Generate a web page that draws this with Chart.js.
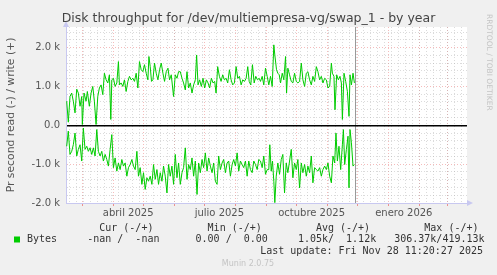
<!DOCTYPE html>
<html>
<head>
<meta charset="utf-8">
<script src="https://cdn.jsdelivr.net/npm/chart.js@4.4.1/dist/chart.umd.min.js"></script>
<style>
  html, body { margin: 0; padding: 0; background: #f0f0f0; }
</style>
</head>
<body>
<canvas id="chart" width="497" height="275"></canvas>
<script>
// Munin disk throughput graph (by year), redrawn with Chart.js
// x = days since 13 Feb 2025 (left edge of the graph)

const writeDays = [0.7,2.3,4,5.7,7.3,9,10.7,12.3,14,15.7,
  16.3,18,20,21.3,23.3,25,26.7,28.3,30,31.7,
  33.3,35,36.7,38.3,40,41.7,43.3,44.7,45.7,47.3,
  49,50.7,52.3,53.3,55,56.7,58.3,60,61.7,63.3,
  65,66.7,68.3,70,71.7,73.3,75,76.7,78.3,80,
  81.7,82.7,84,85.3,86.7,88.3,90,91.7,93.3,95,
  96.7,98.3,100,101.7,103.3,105,107.3,109,110.7,112.3,
  114,115.7,117.3,119,120.7,122.3,124,125.7,127.3,129,
  130.3,131.7,133.3,135,136.7,138.3,140,141.7,143.3,145,
  146.7,148.3,149.7,151.3,153,154.7,156.3,158,159.7,161.3,
  163,164.7,166.3,168,169.7,171.3,173,174.7,176.3,178,
  179.7,181.3,182.7,184.3,186,187.7,189.3,191,192.7,194,
  195.7,197.3,199,200.7,202.3,204,205.7,207.3,208.3,210,
  211.3,212.7,214,215.7,217.3,219,220,221.3,223,224.7,
  226.3,228,229.7,231.3,233,234.7,236.3,238,239.7,241.3,
  243,244.7,246.3,248,249.7,251.3,253,254.7,256.3,258,
  259.7,261.3,263,264.7,265.7,267.3,268.3,270,271.7,273.3,
  274.7,275.7,277.3,279,280.7,282.3,283.3,284.7,286.3,287.7];
const writeBytes = [620,80,740,830,620,320,930,830,490,740,
  20,830,620,870,490,830,1000,620,20,740,
  960,1040,790,1340,1170,1090,1300,150,1170,1210,
  1000,1090,1640,1040,1090,1000,1170,870,1130,1260,
  1170,1210,1130,1340,960,1640,1430,1380,1560,1340,
  1170,1770,1510,1130,1170,1600,1340,1170,1430,1600,
  1340,1130,1380,1470,1170,1300,740,1300,1210,1380,
  1380,1210,1090,910,1380,960,1090,830,1040,1170,
  1810,1040,1170,1000,1210,960,1170,1090,960,1210,
  1090,1130,830,1510,1260,1130,1300,1170,1210,1090,
  1430,1170,1040,1090,1510,1210,1260,1040,1170,1130,
  1210,1510,1130,1040,1560,1090,1260,1170,1210,1130,
  1260,1040,1470,1260,1040,1260,1000,2070,1810,1430,
  1340,1300,1090,1340,1170,1770,830,1470,1300,1130,
  1090,1340,1130,1090,1130,1600,1170,1000,1340,1380,
  1170,1040,1260,1130,1510,1380,1170,1260,1090,1210,
  1170,960,1000,1600,1340,1260,400,1300,1170,1260,
  1090,150,1340,1130,870,230,1300,1040,1340,1090];

const readDays = [0.7,2.3,4,5.7,7.3,9,10.7,12.3,14,15.7,
  17.3,19,20.7,22.3,24,25.7,27.3,29,30.7,32.3,
  34,35.7,37.3,39,40.7,42.3,44,45.7,47.3,49,
  50.7,52.3,54,55.7,57.3,59,60.7,62.3,64,65.7,
  67.3,69,70.7,72.3,74,75.7,77.3,79,80.7,82.3,
  84,85.7,87.3,89,90.7,92.3,94,95.7,97.3,99,
  100.7,102.3,104,105.7,107.3,109,110.7,112.3,114,115.7,
  117.3,119,120.7,122.3,124,125.7,127.3,129,130.7,132.3,
  134,135.7,137.3,139,140.7,142.3,144,145.7,147.3,149,
  150.7,152.3,154,155.7,157.3,159,160.7,162.3,164,165.7,
  167.3,169,170.7,172.3,174,175.7,177.3,179,180.7,182.3,
  184,185.7,187.3,189,190.7,192.3,194,195.7,197.3,199,
  200.7,202.3,203.3,204.7,206,207.3,208.3,209.7,211.3,213,
  214.7,216.3,218,219.7,221.3,223,224.7,226.3,228,229.7,
  231.3,233,234.7,236.3,238,239.7,241.3,243,244.7,246.3,
  248,249.7,251.3,253,254.7,256.3,258,259.7,261.3,263,
  264.7,266.3,268,269.3,270.7,272.3,274,275.7,276.7,278,
  279.7,281.3,282.3,283.3,284.7,286.3,287.7];
// read is plotted below zero (Munin negative field)
const readBytes = [540,150,750,670,500,200,790,620,500,920,
  70,620,540,670,580,750,580,790,110,670,
  790,670,920,750,880,1050,620,240,1090,840,
  1180,970,1140,880,1050,970,1310,1090,1010,880,
  1050,1140,670,1310,1090,1520,1220,1650,1350,1440,
  1310,1520,1010,1390,1140,1520,1220,1440,1050,1310,
  1740,1010,1310,1050,1520,750,1350,970,1520,1220,
  1090,580,1390,1010,1140,840,1310,920,1780,970,
  1220,880,1090,710,1180,840,1050,1220,970,1440,
  1520,790,1140,970,880,1220,970,920,1310,1010,
  880,1050,710,1180,920,1010,1090,920,1310,920,
  1140,1220,920,1010,1140,880,920,1090,790,1260,
  1140,1140,500,1180,920,1440,1990,1310,970,1260,
  880,750,1740,970,1220,920,620,1350,970,1140,
  880,1610,970,1220,1010,1310,1050,1220,790,1480,
  1090,1140,1180,1090,1310,1140,1050,1140,970,1310,
  1480,790,970,200,920,540,1140,500,110,1010,
  620,280,1610,110,450,1050,1010];

const monthDays = [16, 47, 77, 108, 138, 169, 200, 230, 261, 291, 322, 353, 381];
const labelDays = [62, 153, 245, 337];
const labelNames = ['abril 2025', 'julio 2025', 'octubre 2025', 'enero 2026'];
const firstSunday = 3;
const nowDay = 288.3;

const yMajor = [-2000, -1000, 0, 1000, 2000];
const yLabels = ['-2.0 k', '-1.0 k', '0.0', '1.0 k', '2.0 k'];
const yMin = -2000;
const yMax = 2530;

const legendHeads = ['Cur (-/+)', 'Min (-/+)', 'Avg (-/+)', 'Max (-/+)'];
const legendVals = ['-nan /  -nan', '0.00 /  0.00', '1.05k/  1.12k', '306.37k/419.13k'];
const lastUpdate = 'Last update: Fri Nov 28 11:20:27 2025';

const GREEN = '#00cc00';
const RED_GRID = 'rgba(235,120,120,0.5)';
const GRAY_GRID = 'rgba(170,170,170,0.42)';
const AXIS = '#c8c8f0';
const SANS = 'DejaVu Sans';
const MONO = 'DejaVu Sans Mono';

function xTicks() {
  const t = [];
  monthDays.forEach(v => t.push({ value: v, kind: 'month' }));
  for (let v = firstSunday; v <= 400; v += 7) t.push({ value: v, kind: 'week' });
  labelDays.forEach(v => t.push({ value: v, kind: 'label' }));
  t.push({ value: nowDay, kind: 'now' });
  return t.sort((a, b) => a.value - b.value);
}

const decor = {
  id: 'decor',
  beforeDraw(chart) {
    const { ctx, chartArea: a } = chart;
    ctx.save();
    ctx.fillStyle = '#f0f0f0';
    ctx.fillRect(0, 0, chart.width, chart.height);
    ctx.fillStyle = '#ffffff';
    ctx.fillRect(a.left, a.top, a.right - a.left, a.bottom - a.top);
    ctx.restore();
  },
  afterDraw(chart) {
    const { ctx, chartArea: a } = chart;
    ctx.save();

    // axis arrows
    ctx.fillStyle = AXIS;
    ctx.beginPath();
    ctx.moveTo(a.left - 3, a.top);
    ctx.lineTo(a.left + 3, a.top);
    ctx.lineTo(a.left, a.top - 6);
    ctx.fill();
    ctx.beginPath();
    ctx.moveTo(a.right, a.bottom - 3);
    ctx.lineTo(a.right, a.bottom + 3);
    ctx.lineTo(a.right + 6, a.bottom);
    ctx.fill();

    // title
    ctx.fillStyle = '#444';
    ctx.font = '12.5px "' + SANS + '"';
    ctx.textAlign = 'center';
    ctx.textBaseline = 'middle';
    ctx.fillText('Disk throughput for /dev/multiempresa-vg/swap_1 - by year', 248.5, 19);

    // vertical axis title
    ctx.save();
    ctx.translate(11, 115);
    ctx.rotate(-Math.PI / 2);
    ctx.font = '10.8px "' + SANS + '"';
    ctx.fillStyle = '#555';
    ctx.fillText('Pr second read (-) / write (+)', 0, 0);
    ctx.restore();

    // rrdtool credit
    ctx.save();
    ctx.translate(489, 14);
    ctx.rotate(Math.PI / 2);
    ctx.font = '7.5px "' + SANS + '"';
    ctx.fillStyle = '#c4c4c4';
    ctx.textAlign = 'left';
    ctx.fillText('RRDTOOL / TOBI OETIKER', 0, 0);
    ctx.restore();

    // legend
    const cw = 6.02;
    const x0 = 27;
    ctx.font = '10px "' + MONO + '"';
    ctx.fillStyle = '#333';
    ctx.textAlign = 'left';
    const headCol = [12, 30, 48, 66];
    const valCol = [10, 28, 45, 61];
    legendHeads.forEach((h, i) => ctx.fillText(h, x0 + headCol[i] * cw, 228));
    ctx.fillText('Bytes', x0, 239.5);
    legendVals.forEach((v, i) => ctx.fillText(v, x0 + valCol[i] * cw, 239.5));
    ctx.fillStyle = GREEN;
    ctx.fillRect(14, 236.5, 6, 6);
    ctx.fillStyle = '#333';
    ctx.textAlign = 'right';
    ctx.fillText(lastUpdate, 483, 251.5);

    ctx.font = '8px "' + SANS + '"';
    ctx.fillStyle = '#c4c4c4';
    ctx.textAlign = 'center';
    ctx.fillText('Munin 2.0.75', 248, 264);
    ctx.restore();
  }
};

const pts = (xs, ys, sign) => xs.map((x, i) => ({ x: x, y: sign * ys[i] }));

new Chart(document.getElementById('chart'), {
  type: 'line',
  data: {
    datasets: [
      { label: 'write', data: pts(writeDays, writeBytes, 1) },
      { label: 'read', data: pts(readDays, readBytes, -1) }
    ]
  },
  options: {
    responsive: false,
    animation: false,
    parsing: false,
    normalized: true,
    elements: {
      line: { borderColor: GREEN, borderWidth: 1, tension: 0 },
      point: { radius: 0 }
    },
    layout: { padding: { top: 27, right: 30, bottom: 52, left: 0 } },
    plugins: { legend: { display: false }, tooltip: { enabled: false } },
    scales: {
      x: {
        type: 'linear',
        min: 0,
        max: 400,
        afterBuildTicks: axis => { axis.ticks = xTicks(); },
        afterFit: s => { s.height = 20; },
        grid: {
          color: c => {
            const k = c.tick && c.tick.kind;
            if (k === 'month') return RED_GRID;
            if (k === 'week') return GRAY_GRID;
            if (k === 'now') return '#999';
            return 'rgba(0,0,0,0)';
          },
          lineWidth: 1,
          drawTicks: true,
          tickLength: 3,
          tickColor: c => (c.tick && c.tick.kind === 'month') ? 'rgba(235,120,120,0.8)' : 'rgba(0,0,0,0)'
        },
        border: {
          display: true,
          color: AXIS,
          width: 1,
          dash: c => (c.tick && c.tick.kind === 'now') ? [] : [1, 2]
        },
        ticks: {
          autoSkip: false,
          maxRotation: 0,
          padding: 1,
          color: '#555',
          font: { family: SANS, size: 10 },
          callback: (v, i, ticks) => {
            const k = labelDays.indexOf(v);
            return (ticks[i].kind === 'label' && k >= 0) ? labelNames[k] : '';
          }
        }
      },
      y: {
        type: 'linear',
        min: yMin,
        max: yMax,
        afterBuildTicks: axis => {
          const t = [];
          for (let v = yMin; v <= yMax; v += 200) t.push({ value: v });
          axis.ticks = t;
        },
        afterFit: s => { s.width = 66; },
        grid: {
          color: c => {
            const v = c.tick ? c.tick.value : null;
            if (v === 0) return '#000';
            return yMajor.includes(v) ? RED_GRID : GRAY_GRID;
          },
          lineWidth: c => (c.tick && c.tick.value === 0) ? 1.5 : 1,
          drawTicks: false
        },
        border: {
          display: true,
          color: AXIS,
          width: 1,
          dash: c => (c.tick && c.tick.value === 0) ? [] : [1, 2]
        },
        ticks: {
          autoSkip: false,
          padding: 6,
          color: '#555',
          font: { family: SANS, size: 10 },
          callback: v => {
            const i = yMajor.indexOf(v);
            return i < 0 ? '' : yLabels[i];
          }
        }
      }
    }
  },
  plugins: [decor]
});
</script>
</body>
</html>
